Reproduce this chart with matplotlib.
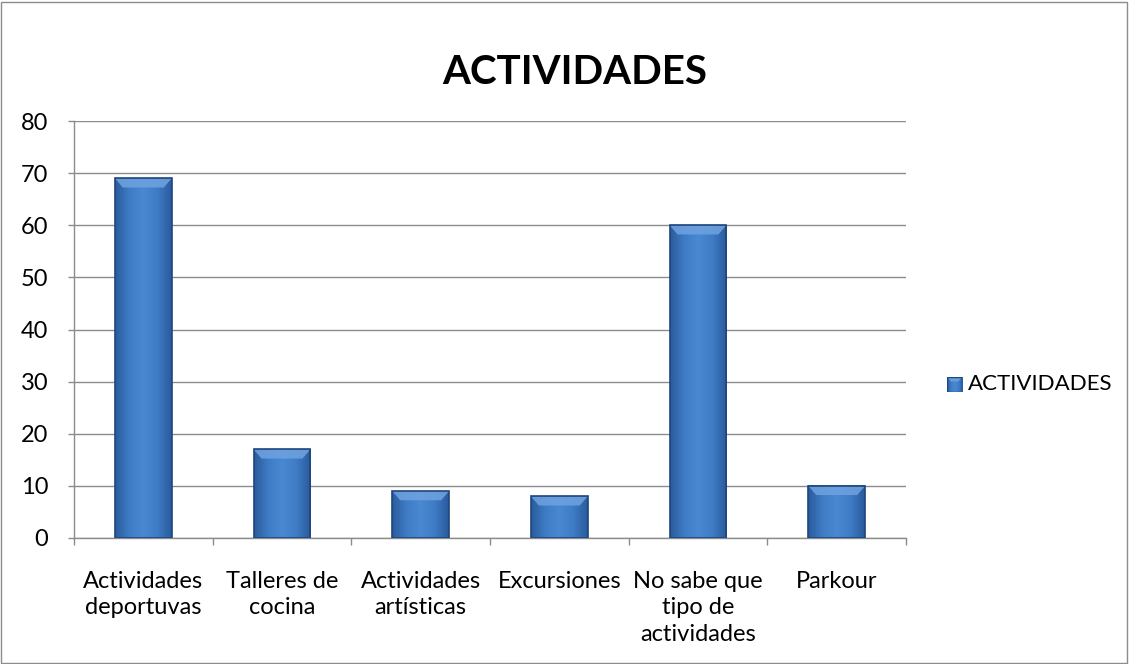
import numpy as np
import matplotlib
matplotlib.use("Agg")
import matplotlib.pyplot as plt
from matplotlib.patches import Rectangle, Polygon
from matplotlib.colors import LinearSegmentedColormap

# data
categories = ["Actividades\ndeportuvas", "Talleres de\ncocina", "Actividades\nartísticas",
              "Excursiones", "No sabe que\ntipo de\nactividades", "Parkour"]
values = [69, 17, 9, 8, 60, 10]
series_name = "ACTIVIDADES"

plt.rcParams['font.family'] = ['Lato', 'DejaVu Sans']

fig = plt.figure(figsize=(11.29, 6.64), dpi=100)
ax = fig.add_axes([74/1129, 1 - 538/664, (906-74)/1129, (538-121)/664])

cmap = LinearSegmentedColormap.from_list("bevel", ["#2a5c9c", "#3f7cc6", "#4a88d2", "#3f7cc6", "#2a5c9c"])
grad = np.linspace(0, 1, 64).reshape(1, -1)
width = 0.41

for i, v in enumerate(values):
    x0 = i - width / 2
    ax.imshow(grad, cmap=cmap, aspect='auto', extent=(x0, x0 + width, 0, v),
              zorder=3, interpolation='bicubic')
    # top bevel
    bev_w = width * 0.14
    bev_h = 80 * 0.022
    top = Polygon([(x0, v), (x0 + width, v), (x0 + width - bev_w, v - bev_h), (x0 + bev_w, v - bev_h)],
                  closed=True, facecolor="#6fa3e0", edgecolor='none', alpha=0.85, zorder=4)
    ax.add_patch(top)
    ax.add_patch(Rectangle((x0, 0), width, v, facecolor='none', edgecolor="#1f467c",
                           linewidth=1.2, zorder=5))

ax.set_xlim(-0.5, len(values) - 0.5)
ax.set_ylim(0, 80)
ax.set_yticks(range(0, 81, 10))
ax.yaxis.grid(True, color="#8c8c8c", linewidth=1.0)
ax.set_axisbelow(True)

ax.set_xticks(range(len(values)))
ax.set_xticklabels(categories, fontsize=17, linespacing=1.3, va='top')
ax.tick_params(axis='x', which='major', length=0, pad=24)
ax.set_xticks(np.arange(-0.5, len(values), 1.0), minor=True)
ax.tick_params(axis='x', which='minor', length=5, color="#8c8c8c", width=1.0)
ax.tick_params(axis='y', length=4.5, color="#8c8c8c", width=1.0, labelsize=17, pad=14)

for s in ['top', 'right']:
    ax.spines[s].set_visible(False)
for s in ['left', 'bottom']:
    ax.spines[s].set_color("#8c8c8c")
    ax.spines[s].set_linewidth(1.0)

fig.text(575/1129, 1 - 73/664, "ACTIVIDADES", fontsize=29, fontweight='bold',
         ha='center', va='center')

# legend
lax = fig.add_axes([947/1129, 1 - 392/664, 15/1129, 15/664])
lax.imshow(grad, cmap=cmap, aspect='auto', extent=(0, 1, 0, 1), interpolation='bicubic')
lax.add_patch(Polygon([(0, 1), (1, 1), (0.75, 0.7), (0.25, 0.7)], facecolor="#6fa3e0", alpha=0.85))
lax.add_patch(Rectangle((0, 0), 1, 1, facecolor='none', edgecolor="#1f467c", linewidth=1.0))
lax.set_xlim(0, 1)
lax.set_ylim(0, 1)
lax.axis('off')
fig.text(968/1129, 1 - 384/664, series_name, fontsize=16, ha='left', va='center')

# chart border
fig.add_artist(Rectangle((1/1129, 1/664), 1 - 3/1129, 1 - 3/664, transform=fig.transFigure,
                         facecolor='none', edgecolor="#8c8c8c", linewidth=1.0))

fig.savefig("out.png", dpi=100)
